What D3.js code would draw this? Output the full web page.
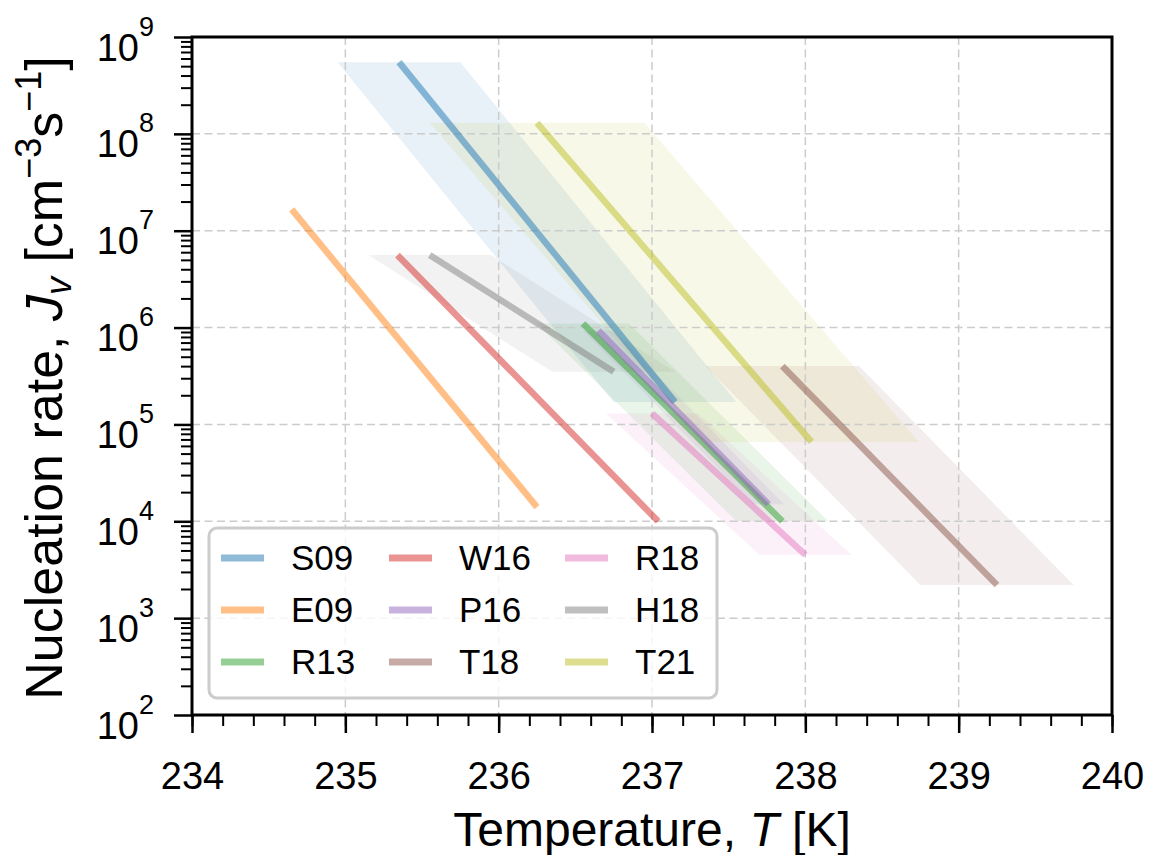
<!DOCTYPE html>
<html>
<head>
<meta charset="utf-8">
<script src="https://cdn.jsdelivr.net/npm/d3@7"></script>
<style>
  body { margin: 0; background: #fff; }
  text { font-family: "Liberation Sans", Arial, sans-serif; fill: #000; }
</style>
</head>
<body>
<svg id="chart" width="1152" height="855"></svg>
<script>
// study labels, in legend order (column-major)
const studies = ["S09", "E09", "R13", "W16", "P16", "T18", "R18", "H18", "T21"];
const colors = ["#1f77b4", "#ff7f0e", "#2ca02c", "#d62728", "#9467bd",
                "#8c564b", "#e377c2", "#7f7f7f", "#bcbd22"];
// line end points, temperature [K] and nucleation rate [cm^-3 s^-1]
const tStart = [235.35, 234.65, 236.55, 235.34, 236.65, 237.85, 237.00, 235.55, 236.25];
const tEnd   = [237.15, 236.25, 237.85, 237.04, 237.76, 239.25, 238.00, 236.75, 238.04];
const jStart = [5.5e8, 1.66e7, 1.1e6, 5.6e6, 9.3e5, 4.0e5, 1.3e5, 5.6e6, 1.3e8];
const jEnd   = [1.7e5, 1.4e4, 1.0e4, 1.0e4, 1.5e4, 2.2e3, 4.5e3, 3.5e5, 6.6e4];
// temperature uncertainty of the shaded band (0 = no band)
const tErr   = [0.4, 0, 0.3, 0, 0.1, 0.5, 0.3, 0.4, 0.7];

const xTicks = [234, 235, 236, 237, 238, 239, 240];
const yTicks = [1e2, 1e3, 1e4, 1e5, 1e6, 1e7, 1e8, 1e9];

const margin = { left: 192, right: 1112, top: 37, bottom: 715 };

const svg = d3.select("#chart");

const x = d3.scaleLinear().domain([234, 240]).range([margin.left, margin.right]);
const y = d3.scaleLog().domain([1e2, 1e9]).range([margin.bottom, margin.top]);

svg.append("defs").append("clipPath").attr("id", "clip")
  .append("rect")
  .attr("x", margin.left).attr("y", margin.top)
  .attr("width", margin.right - margin.left)
  .attr("height", margin.bottom - margin.top);

const plot = svg.append("g").attr("clip-path", "url(#clip)");

const series = studies.map((name, i) => ({
  name: name,
  color: colors[i],
  t0: tStart[i], t1: tEnd[i],
  j0: jStart[i], j1: jEnd[i],
  dt: tErr[i]
}));

// shaded uncertainty bands
plot.append("g").selectAll("path")
  .data(series.filter(d => d.dt > 0))
  .join("path")
  .attr("d", d => {
    const pts = [
      [x(d.t0 - d.dt), y(d.j0)], [x(d.t0 + d.dt), y(d.j0)],
      [x(d.t1 + d.dt), y(d.j1)], [x(d.t1 - d.dt), y(d.j1)]
    ];
    return "M" + pts.join("L") + "Z";
  })
  .attr("fill", d => d.color)
  .attr("fill-opacity", 0.1);

// grid
const grid = plot.append("g")
  .attr("stroke", "#cccccc")
  .attr("stroke-width", 1.5)
  .attr("stroke-dasharray", "8,4.5");
grid.selectAll(".gx").data(xTicks).join("line")
  .attr("x1", d => x(d)).attr("x2", d => x(d))
  .attr("y1", margin.top).attr("y2", margin.bottom);
grid.selectAll(".gy").data(yTicks).join("line")
  .attr("y1", d => y(d)).attr("y2", d => y(d))
  .attr("x1", margin.left).attr("x2", margin.right);

// the fitted lines
plot.append("g").selectAll("line")
  .data(series)
  .join("line")
  .attr("x1", d => x(d.t0)).attr("y1", d => y(d.j0))
  .attr("x2", d => x(d.t1)).attr("y2", d => y(d.j1))
  .attr("stroke", d => d.color)
  .attr("stroke-opacity", 0.5)
  .attr("stroke-width", 6.5);

// x axis
const xMinor = d3.range(234, 240.001, 0.2);
svg.append("g")
  .attr("transform", `translate(0,${margin.bottom})`)
  .call(d3.axisBottom(x).tickValues(xMinor).tickSize(11).tickFormat(""))
  .call(g => g.select(".domain").remove())
  .call(g => g.selectAll("line").attr("stroke-width", 2));

svg.append("g")
  .attr("transform", `translate(0,${margin.bottom})`)
  .call(d3.axisBottom(x).tickValues(xTicks).tickSize(18).tickPadding(56).tickFormat(d3.format("d")))
  .call(g => g.select(".domain").remove())
  .call(g => g.selectAll("line").attr("stroke-width", 2.5))
  .call(g => g.selectAll("text").attr("font-size", 38).attr("dy", 0)
    .attr("font-family", "Liberation Sans, Arial, sans-serif"));

// y axis
const yMinor = [];
for (let e = 2; e < 9; e++) {
  for (let m = 2; m <= 9; m++) yMinor.push(m * Math.pow(10, e));
}
svg.append("g")
  .attr("transform", `translate(${margin.left},0)`)
  .call(d3.axisLeft(y).tickValues(yMinor).tickSize(11).tickFormat(""))
  .call(g => g.select(".domain").remove())
  .call(g => g.selectAll("line").attr("stroke-width", 2));

const yAxis = svg.append("g")
  .attr("transform", `translate(${margin.left},0)`)
  .call(d3.axisLeft(y).tickValues(yTicks).tickSize(18).tickFormat(""))
  .call(g => g.select(".domain").remove())
  .call(g => g.selectAll("line").attr("stroke-width", 2.5));

yAxis.selectAll(".tick").each(function (d) {
  const t = d3.select(this).append("text")
    .attr("x", -38).attr("y", 23)
    .attr("text-anchor", "end")
    .attr("font-size", 38)
    .attr("fill", "#000");
  t.append("tspan").text("10");
  t.append("tspan").attr("font-size", 27).attr("dy", -25).text(Math.round(Math.log10(d)));
});

// frame
svg.append("rect")
  .attr("x", margin.left).attr("y", margin.top)
  .attr("width", margin.right - margin.left)
  .attr("height", margin.bottom - margin.top)
  .attr("fill", "none")
  .attr("stroke", "#000")
  .attr("stroke-width", 3);

// axis labels
const xl = svg.append("text")
  .attr("x", (margin.left + margin.right) / 2).attr("y", 846)
  .attr("text-anchor", "middle")
  .attr("font-size", 48);
xl.append("tspan").text("Temperature, ");
xl.append("tspan").attr("font-style", "italic").text("T");
xl.append("tspan").text(" [K]");

const yl = svg.append("text")
  .attr("transform", "translate(62,378) rotate(-90)")
  .attr("text-anchor", "middle")
  .attr("font-size", 52);
yl.append("tspan").text("Nucleation rate, ");
yl.append("tspan").attr("font-style", "italic").text("J");
yl.append("tspan").attr("font-style", "italic").attr("font-size", 36).attr("dy", 9).text("v");
yl.append("tspan").attr("dy", -9).text(" [cm");
yl.append("tspan").attr("font-size", 36).attr("dy", -21).text("\u22123");
yl.append("tspan").attr("dy", 21).text("s");
yl.append("tspan").attr("font-size", 36).attr("dy", -21).text("\u22121");
yl.append("tspan").attr("dy", 21).text("]");

// legend
const legend = svg.append("g");
legend.append("rect")
  .attr("x", 209).attr("y", 528)
  .attr("width", 508).attr("height", 170)
  .attr("rx", 8).attr("ry", 8)
  .attr("fill", "#fff").attr("fill-opacity", 0.8)
  .attr("stroke", "#cccccc").attr("stroke-width", 3);

const colX = [221, 389, 565];
const rowY = [558, 610, 662];
const items = legend.selectAll("g.item")
  .data(series)
  .join("g")
  .attr("transform", (d, i) => `translate(${colX[Math.floor(i / 3)]},${rowY[i % 3]})`);
items.append("line")
  .attr("x1", 0).attr("x2", 43)
  .attr("stroke", d => d.color)
  .attr("stroke-opacity", 0.5)
  .attr("stroke-width", 7);
items.append("text")
  .attr("x", 70).attr("y", 12)
  .attr("font-size", 35)
  .text(d => d.name);
</script>
</body>
</html>
